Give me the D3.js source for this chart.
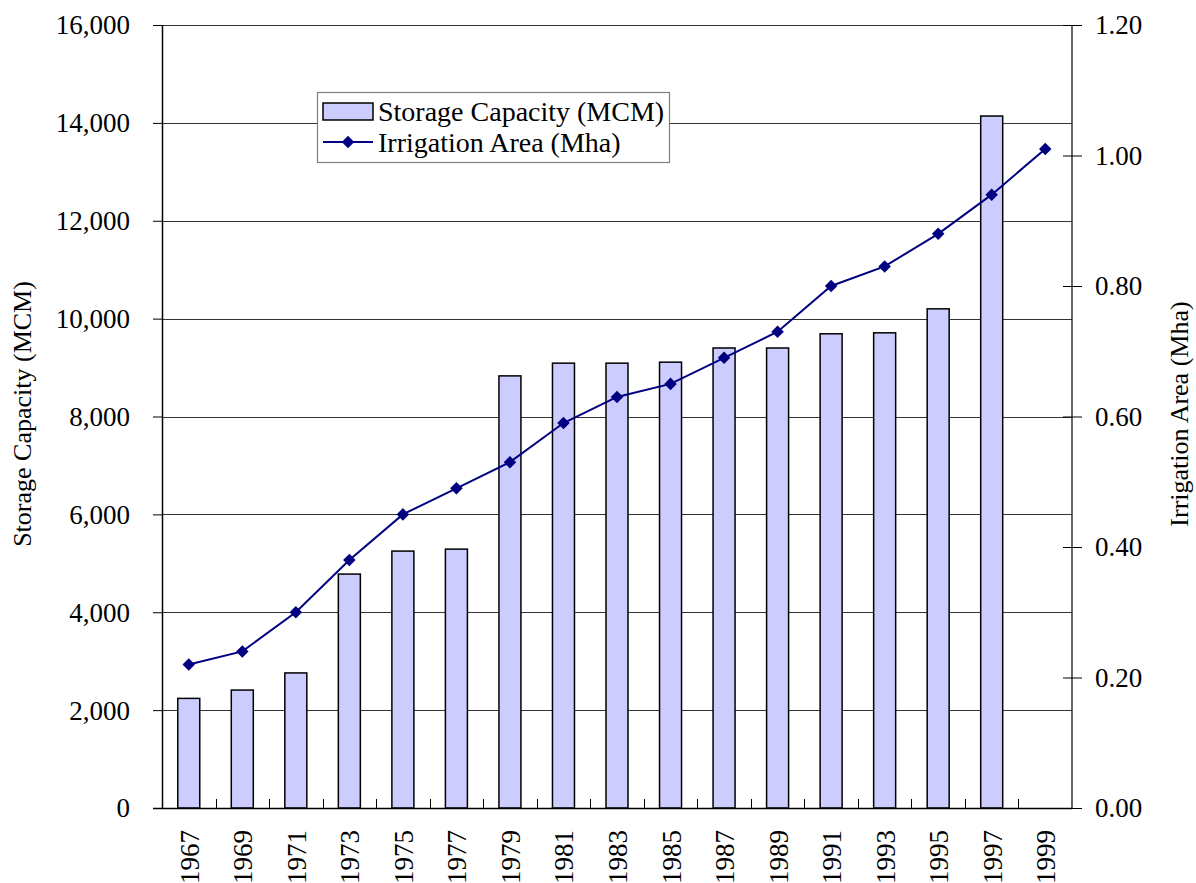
<!DOCTYPE html>
<html>
<head>
<meta charset="utf-8">
<script src="https://d3js.org/d3.v7.min.js"></script>
<style>
  body { margin: 0; background: #fff; }
  text { font-family: "Liberation Serif", "Times New Roman", serif; fill: #000; }
</style>
</head>
<body>
<script>
// years on the x axis
var years = ["1967","1969","1971","1973","1975","1977","1979","1981","1983",
             "1985","1987","1989","1991","1993","1995","1997","1999"];
// storage capacity, MCM (no bar for 1999)
var storage = [2240, 2410, 2760, 4780, 5250, 5290, 8830, 9090, 9090,
               9110, 9400, 9400, 9690, 9710, 10200, 14140, null];
// irrigation area, Mha
var irrigation = [0.22, 0.24, 0.30, 0.38, 0.45, 0.49, 0.53, 0.59, 0.63,
                  0.65, 0.69, 0.73, 0.80, 0.83, 0.88, 0.94, 1.01];
var leftTicks = [0, 2000, 4000, 6000, 8000, 10000, 12000, 14000, 16000];
var rightTicks = [0, 0.2, 0.4, 0.6, 0.8, 1.0, 1.2];

var W = 1196, H = 883;
var plot = {left: 162, right: 1072, top: 25, bottom: 808};

var svg = d3.select("body").append("svg")
    .attr("width", W).attr("height", H);

var x = d3.scaleBand().domain(years).range([plot.left, plot.right]).paddingInner(0).paddingOuter(0);
var yL = d3.scaleLinear().domain([0, 16000]).range([plot.bottom, plot.top]);
var yR = d3.scaleLinear().domain([0, 1.2]).range([plot.bottom, plot.top]);

// gridlines
svg.append("g").selectAll("line").data(leftTicks.slice(1)).enter().append("line")
    .attr("x1", plot.left).attr("x2", plot.right)
    .attr("y1", function (d) { return Math.round(yL(d)) + 0.5; })
    .attr("y2", function (d) { return Math.round(yL(d)) + 0.5; })
    .attr("stroke", "#333").attr("stroke-width", 1.2);

// bars
var barW = 22;
svg.append("g").selectAll("rect")
    .data(years.map(function (y, i) { return {year: y, v: storage[i]}; }).filter(function (d) { return d.v != null; }))
    .enter().append("rect")
    .attr("x", function (d) { return x(d.year) + x.bandwidth() / 2 - barW / 2; })
    .attr("y", function (d) { return yL(d.v); })
    .attr("width", barW)
    .attr("height", function (d) { return plot.bottom - yL(d.v); })
    .attr("fill", "#ccccff").attr("stroke", "#000").attr("stroke-width", 1.5);

// left axis
var axL = svg.append("g").attr("transform", "translate(" + plot.left + ",0)")
    .call(d3.axisLeft(yL).tickValues(leftTicks).tickSize(9).tickPadding(23)
        .tickFormat(d3.format(",")));
axL.select(".domain").remove();
axL.append("line").attr("x1", 0.5).attr("x2", 0.5).attr("y1", plot.top).attr("y2", plot.bottom)
    .attr("stroke", "#000").attr("stroke-width", 1.5);
axL.selectAll("text").style("font-size", "27px").attr("dy", "0.33em");

// right axis (cross ticks)
var axR = svg.append("g").attr("transform", "translate(" + plot.right + ",0)")
    .call(d3.axisRight(yR).tickValues(rightTicks).tickSize(10).tickPadding(13)
        .tickFormat(d3.format(".2f")));
axR.select(".domain").remove();
axR.selectAll(".tick line").attr("x1", -9).attr("x2", 10);
axR.append("line").attr("x1", 0).attr("x2", 0).attr("y1", plot.top).attr("y2", plot.bottom)
    .attr("stroke", "#000").attr("stroke-width", 1.2);
axR.selectAll("text").style("font-size", "27px").attr("dy", "0.33em");

// bottom axis
var axB = svg.append("g").attr("transform", "translate(0," + plot.bottom + ")");
axB.append("line").attr("x1", plot.left - 9).attr("x2", plot.right)
    .attr("y1", 0.5).attr("y2", 0.5).attr("stroke", "#000").attr("stroke-width", 1.5);
axB.selectAll("line.tk").data(years.slice(1)).enter().append("line")
    .attr("class", "tk")
    .attr("x1", function (d) { return Math.round(x(d)) + 0.5; })
    .attr("x2", function (d) { return Math.round(x(d)) + 0.5; })
    .attr("y1", -9).attr("y2", 0).attr("stroke", "#000").attr("stroke-width", 1);
axB.selectAll("text").data(years).enter().append("text")
    .attr("transform", function (d) {
      return "translate(" + (x(d) + x.bandwidth() / 2 + 10) + ",22) rotate(-90)";
    })
    .attr("text-anchor", "end")
    .style("font-size", "27px")
    .text(function (d) { return d; });

// irrigation line
var navy = "#000080";
var pts = years.map(function (y, i) { return [x(y) + x.bandwidth() / 2, yR(irrigation[i])]; });
svg.append("path").datum(pts)
    .attr("d", d3.line())
    .attr("fill", "none").attr("stroke", navy).attr("stroke-width", 2);
var diamond = d3.symbol().type(d3.symbolDiamond2).size(100);
svg.append("g").selectAll("path").data(pts).enter().append("path")
    .attr("d", diamond)
    .attr("transform", function (d) { return "translate(" + d[0] + "," + d[1] + ")"; })
    .attr("fill", navy);

// axis titles
svg.append("text")
    .attr("transform", "translate(31,414) rotate(-90)")
    .attr("text-anchor", "middle").style("font-size", "26px")
    .text("Storage Capacity (MCM)");
svg.append("text")
    .attr("transform", "translate(1188,414) rotate(-90)")
    .attr("text-anchor", "middle").style("font-size", "26px")
    .text("Irrigation Area (Mha)");

// legend
var lg = svg.append("g").attr("transform", "translate(317,92)");
lg.append("rect").attr("x", 0.5).attr("y", 0.5).attr("width", 352).attr("height", 70)
    .attr("fill", "#fff").attr("stroke", "#808080").attr("stroke-width", 1.2);
lg.append("rect").attr("x", 6).attr("y", 11).attr("width", 50).attr("height", 17)
    .attr("fill", "#ccccff").attr("stroke", "#000").attr("stroke-width", 1.5);
lg.append("text").attr("x", 61).attr("y", 20).attr("dy", "0.33em")
    .style("font-size", "28px").text("Storage Capacity (MCM)");
lg.append("line").attr("x1", 6).attr("x2", 56).attr("y1", 50).attr("y2", 50)
    .attr("stroke", navy).attr("stroke-width", 2);
lg.append("path").attr("d", diamond).attr("transform", "translate(31,50)").attr("fill", navy);
lg.append("text").attr("x", 61).attr("y", 51).attr("dy", "0.33em")
    .style("font-size", "28px").text("Irrigation Area (Mha)");
</script>
</body>
</html>
